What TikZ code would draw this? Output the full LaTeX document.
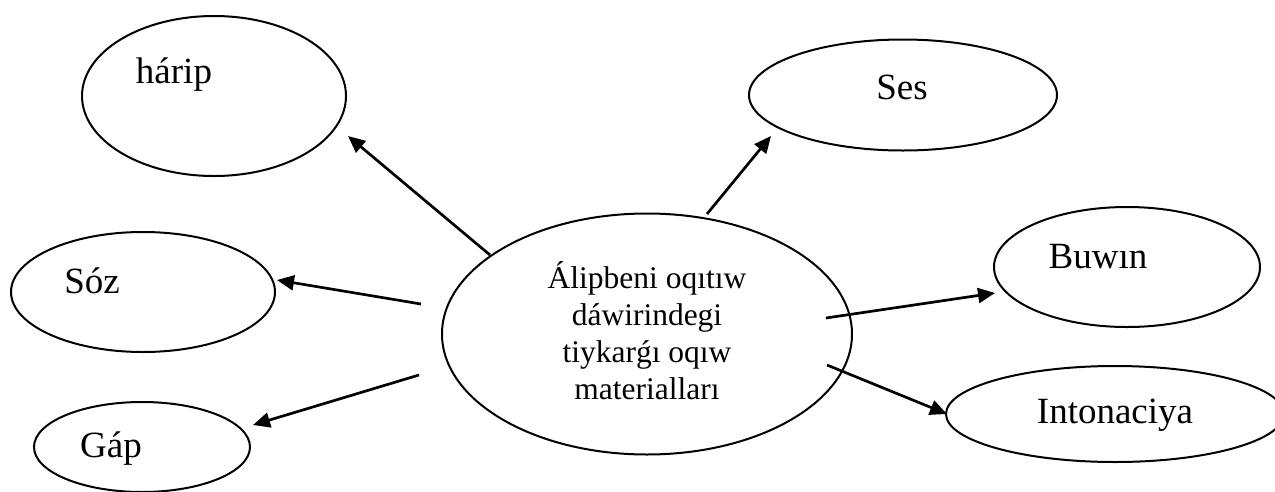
\documentclass[tikz,border=0pt]{standalone}
\usepackage{fontspec}
\setmainfont{Liberation Serif}
\usetikzlibrary{shapes.geometric,arrows.meta}

\tikzset{
  bubble/.style={draw=black, line width=2pt, ellipse, inner sep=0pt},
  word/.style={font=\fontsize{37}{42}\selectfont, inner sep=0pt, anchor=base},
  core/.style={font=\fontsize{31.5}{37}\selectfont, align=center, inner sep=0pt},
  link/.style={line width=2.7pt, -{Triangle[length=17pt,width=15pt]}}
}

\begin{document}
\begin{tikzpicture}[x=1pt,y=-1pt]
  \useasboundingbox (0,0) rectangle (1275,491);
  \clip (0,0) rectangle (1275,491);

  % outer ellipses
  \node[bubble, minimum width=264pt, minimum height=160pt] (harip) at (214,96) {};
  \node[bubble, minimum width=264pt, minimum height=120pt] (soz)   at (143,292) {};
  \node[bubble, minimum width=216pt, minimum height=90pt]  (gap)   at (142,447) {};
  \node[bubble, minimum width=308pt, minimum height=111pt] (ses)   at (903,95) {};
  \node[bubble, minimum width=266pt, minimum height=120pt] (buwin) at (1127,267) {};
  \node[bubble, minimum width=338pt, minimum height=96pt]  (inton) at (1115,414) {};

  % central ellipse
  \node[bubble, minimum width=410pt, minimum height=241pt] (core) at (647,334) {};
  \node[core] (coretext) at (647,331)
    {Álipbeni oqıtıw\\dáwirindegi\\tiykarǵı oqıw\\materialları};

  % labels (placed by baseline)
  \node[word] (tharip) at (174,83)  {hárip};
  \node[word] (tsoz)   at (92,293)  {Sóz};
  \node[word] (tgap)   at (111,457) {Gáp};
  \node[word] (tses)   at (902,99)  {Ses};
  \node[word] (tbuwin) at (1098,268) {Buwın};
  \node[word] (tinton) at (1115,423) {Intonaciya};

  % arrow ends
  \coordinate (s1) at (490,255);  \coordinate (e1) at (348,136);
  \coordinate (s2) at (421,304);  \coordinate (e2) at (277,280);
  \coordinate (s3) at (419,375);  \coordinate (e3) at (253,425);
  \coordinate (s4) at (707,214);  \coordinate (e4) at (771,136);
  \coordinate (s5) at (826,318);  \coordinate (e5) at (995,293);
  \coordinate (s6) at (827,365);  \coordinate (e6) at (947,414);

  \draw[link] (s1) -- (e1);
  \draw[link] (s2) -- (e2);
  \draw[link] (s3) -- (e3);
  \draw[link] (s4) -- (e4);
  \draw[link] (s5) -- (e5);
  \draw[link] (s6) -- (e6);
\end{tikzpicture}
\end{document}
